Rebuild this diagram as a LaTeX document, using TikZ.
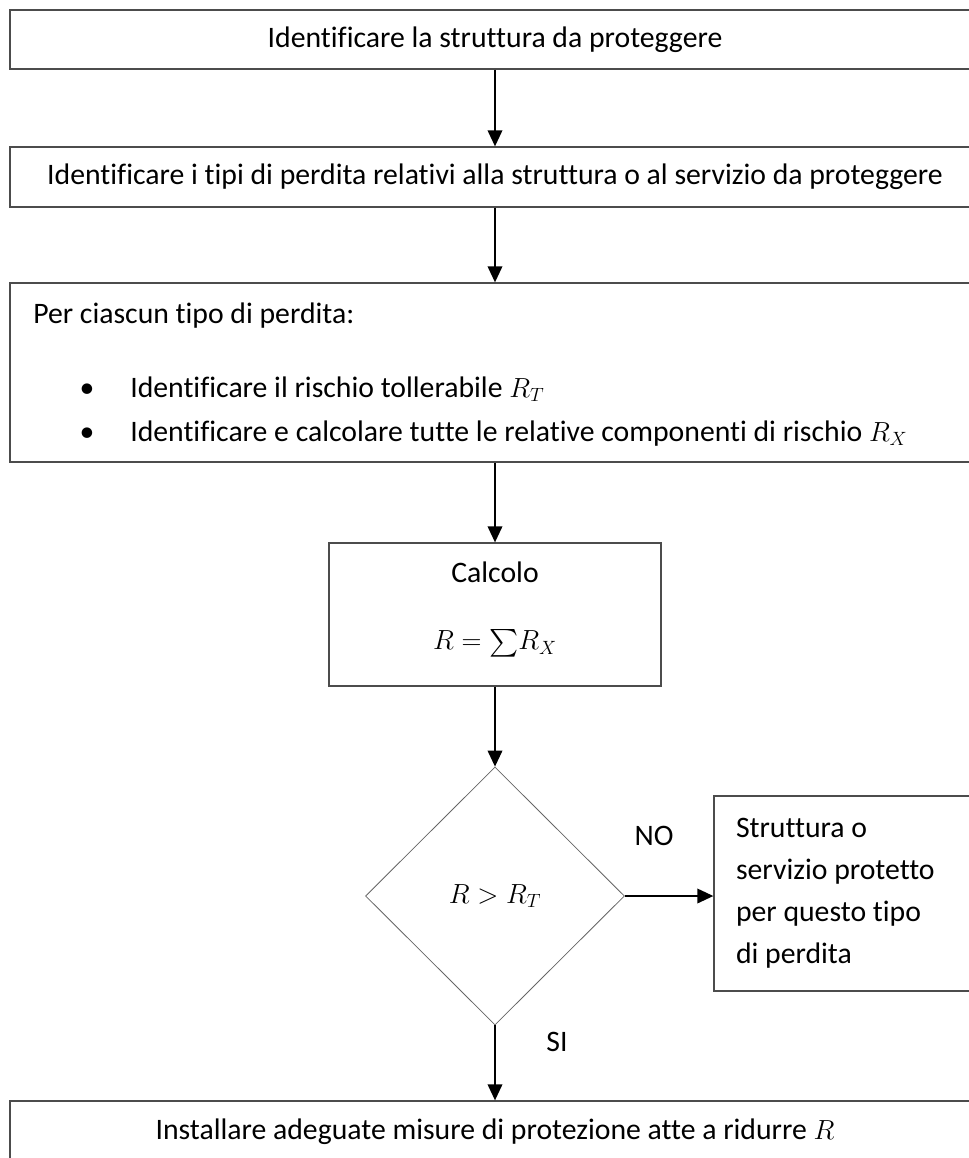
\documentclass[tikz,border=0pt]{standalone}
\usepackage{exscale}
\usepackage{fontspec}
\setmainfont{Carlito}[Ligatures=NoCommon]
\usetikzlibrary{arrows.meta,shapes.geometric}

\begin{document}
\begin{tikzpicture}[x=0.75pt,y=-0.75pt,
    every node/.style={font=\fontsize{22.3}{31.5}\selectfont},
    blk/.style={draw=black!70,line width=1pt,minimum width=727.5pt,inner sep=0pt},
    calc/.style={draw=black!70,line width=1pt,minimum width=249pt,minimum height=107.25pt,inner sep=0pt},
    decide/.style={diamond,draw=black!60,line width=0.6pt,minimum width=194.25pt,minimum height=193.5pt,inner sep=0pt},
    endbox/.style={draw=black!70,line width=1pt,minimum width=199.5pt,minimum height=146.25pt,
      text width=166.5pt,inner xsep=16.5pt,align=flush left},
    flow/.style={-{Triangle[length=12pt,width=11pt]},line width=1.1pt}]
  \useasboundingbox (0,0) rectangle (969,1158);
  \draw
    (495,39.5) node[blk,minimum height=44.25pt] (1){Identificare la struttura da proteggere}
    (495,177) node[blk,minimum height=45pt] (2){Identificare i tipi di perdita relativi alla struttura o al servizio da proteggere}
    (495,372.5) node[blk,minimum height=134.25pt] (3){}
    (33,323) node[anchor=base west,inner sep=0pt] (3a){Per ciascun tipo di perdita:}
    (87,397) node[anchor=base,inner sep=0pt] (3b){\textbullet}
    (130,397) node[anchor=base west,inner sep=0pt] (3c){Identificare il rischio tollerabile $R_T$}
    (87,441) node[anchor=base,inner sep=0pt] (3d){\textbullet}
    (130,441) node[anchor=base west,inner sep=0pt] (3e){Identificare e calcolare tutte le relative componenti di rischio $R_X$}
    (495,614.5) node[calc] (4){}
    (495,572) node (4a){Calcolo}
    (495,643) node (4b){$R=\textstyle\sum\!R_X$}
    (495,896) node[decide] (5){$R>R_T$}
    (847,893.5) node[endbox] (6){Struttura o\\servizio protetto\\per questo tipo\\di perdita}
    (654,836) node (no){NO}
    (557,1042) node (si){SI}
    (495,1132) node[blk,minimum height=46.5pt] (7){Installare adeguate misure di protezione atte a ridurre $R$};
  \begin{scope}[flow]
    \draw (1) to (2);
    \draw (2) to (3);
    \draw (3) to (4);
    \draw (4) to (5);
    \draw (5) to (7);
    \draw (5.east) to (5.east -| 6.west);
  \end{scope}
\end{tikzpicture}
\end{document}
